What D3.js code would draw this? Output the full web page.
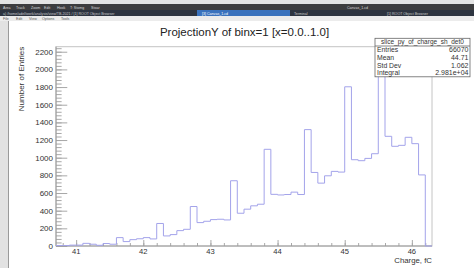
<!DOCTYPE html>
<html>
<head>
<meta charset="utf-8">
<script src="https://cdn.jsdelivr.net/npm/d3@7"></script>
<style>
  html, body { margin: 0; padding: 0; background: #fff; overflow: hidden; }
  svg { display: block; }
</style>
</head>
<body>
<div id="main"></div>
<script>
"use strict";

// bins are 0.1 fC wide, covering xRange
var xRange = [40.7, 46.3];
var counts = [5, 5, 10, 10, 30, 20, 8, 28, 20, 95, 50, 72, 82, 95, 80, 255,
  114, 129, 174, 189, 447, 265, 280, 299, 303, 295, 739, 371, 417, 455, 473,
  1095, 585, 578, 583, 610, 583, 1318, 833, 712, 795, 845, 837, 1803, 977, 966,
  992, 1045, 2150, 1242, 1129, 1140, 1231, 1159, 805, 0];
var xTicks = [41, 42, 43, 44, 45, 46];
var yTicks = [0, 200, 400, 600, 800, 1000, 1200, 1400, 1600, 1800, 2000, 2200];
var yMax = 2257;
var statsTitle = "slice_py_of_charge_sh_det0";
var statsLabels = ["Entries", "Mean", "Std Dev", "Integral"];
var statsValues = ["66070", "44.71", "1.062", "2.981e+04"];
var menuItems = ["File", "Edit", "View", "Options", "Tools"];
var barItems = ["Area", "Track", "Zoom", "Edit", "Hook", "T: Stomg", "Stoar"];

(function() {
  var CH = {
    svg: null,
    w: 474,
    h: 268,
    font: "'Liberation Sans', Arial, Helvetica, sans-serif",
    frame: { left: 56, right: 432, top: 46.7, bottom: 246 },
    init: function() {
      this.svg = d3.select("#main").append("svg")
        .attr("width", CH.w)
        .attr("height", CH.h);
      this.x = d3.scaleLinear().domain(xRange).range([CH.frame.left, CH.frame.right]);
      this.y = d3.scaleLinear().domain([0, yMax]).range([CH.frame.bottom, CH.frame.top]);
      this.drawChrome();
      this.drawAxes();
      this.drawHist();
      this.drawStats();
    },
    drawChrome: function() {
      var s = CH.svg;
      s.append("rect").attr("x", 0).attr("y", 0).attr("width", CH.w).attr("height", 4).attr("fill", "#e4e4e4");
      s.append("rect").attr("x", 0).attr("y", 4).attr("width", CH.w).attr("height", 6).attr("fill", "#3d3d3f");
      s.append("rect").attr("x", 0).attr("y", 10).attr("width", CH.w).attr("height", 6).attr("fill", "#2d3440");
      s.append("rect").attr("x", 197).attr("y", 10).attr("width", 93).attr("height", 6).attr("fill", "#3a72bd");
      s.append("rect").attr("x", 0).attr("y", 16).attr("width", CH.w).attr("height", 5).attr("fill", "#ececec");
      s.append("rect").attr("x", 0).attr("y", 21).attr("width", 8).attr("height", CH.h - 21).attr("fill", "#e2e2e2");
      s.append("line").attr("x1", 8.5).attr("x2", 8.5).attr("y1", 21).attr("y2", CH.h)
        .attr("stroke", "#9a9a9a").attr("stroke-width", 1);

      var bx = 3;
      barItems.forEach(function(t) {
        s.append("text").attr("x", bx).attr("y", 8.6)
          .attr("font-family", CH.font).attr("font-size", 3.6).attr("fill", "#d8d8d8").text(t);
        bx += t.length * 2 + 5;
      });
      s.append("text").attr("x", 347).attr("y", 8.6)
        .attr("font-family", CH.font).attr("font-size", 3.6).attr("fill", "#d8d8d8").text("Canvas_1.cd");
      s.append("text").attr("x", 3).attr("y", 14.6)
        .attr("font-family", CH.font).attr("font-size", 3.6).attr("fill", "#c8c8c8")
        .text("a) /home/adel/work/analysis/view/TB-2021 / [1] ROOT Object Browser");
      s.append("text").attr("x", 202).attr("y", 14.6)
        .attr("font-family", CH.font).attr("font-size", 3.6).attr("fill", "#ffffff").text("[3] Canvas_1.cd");
      s.append("text").attr("x", 294).attr("y", 14.6)
        .attr("font-family", CH.font).attr("font-size", 3.6).attr("fill", "#c8c8c8").text("Terminal");
      s.append("text").attr("x", 387).attr("y", 14.6)
        .attr("font-family", CH.font).attr("font-size", 3.6).attr("fill", "#c8c8c8").text("[1] ROOT Object Browser");

      var mx = 3;
      menuItems.forEach(function(t) {
        s.append("text").attr("x", mx).attr("y", 19.6)
          .attr("font-family", CH.font).attr("font-size", 3.6).attr("fill", "#555").text(t);
        mx += t.length * 2 + 5;
      });
    },
    drawAxes: function() {
      var s = CH.svg, f = CH.frame;
      var fw = f.right - f.left, fh = f.bottom - f.top;

      // frame
      s.append("rect").attr("x", f.left).attr("y", f.top)
        .attr("width", fw).attr("height", fh)
        .attr("fill", "none").attr("stroke", "#c4c4c4").attr("stroke-width", 1);

      // y axis: major every 200, minor every 40, ticks point into the frame
      var yMinor = d3.range(0, yMax, 40);
      var yAx = d3.axisRight(CH.y).tickValues(yMinor).tickSize(fw * 0.015).tickFormat("");
      s.append("g").attr("class", "yminor").attr("transform", "translate(" + f.left + ",0)").call(yAx);
      var yMaj = d3.axisRight(CH.y).tickValues(yTicks).tickSize(fw * 0.03).tickFormat("");
      s.append("g").attr("class", "ymajor").attr("transform", "translate(" + f.left + ",0)").call(yMaj);

      // x axis: major every 1, minor every 0.2
      var xMinor = d3.range(40.8, 46.3, 0.2);
      var xAx = d3.axisTop(CH.x).tickValues(xMinor).tickSize(fh * 0.015).tickFormat("");
      s.append("g").attr("class", "xminor").attr("transform", "translate(0," + f.bottom + ")").call(xAx);
      var xMaj = d3.axisTop(CH.x).tickValues(xTicks).tickSize(fh * 0.03).tickFormat("");
      s.append("g").attr("class", "xmajor").attr("transform", "translate(0," + f.bottom + ")").call(xMaj);

      s.selectAll(".yminor path, .ymajor path, .xminor path, .xmajor path").remove();
      s.selectAll(".tick line").attr("stroke", "#a8a8a8");

      s.append("line").attr("x1", f.left).attr("x2", f.left).attr("y1", f.top).attr("y2", f.bottom)
        .attr("stroke", "#9a9a9a");
      s.append("line").attr("x1", f.left).attr("x2", f.right).attr("y1", f.bottom).attr("y2", f.bottom)
        .attr("stroke", "#9a9a9a");

      s.selectAll(".ylab").data(yTicks).enter().append("text")
        .attr("class", "ylab")
        .attr("x", 53)
        .attr("y", function(d) { return CH.y(d) + 2.9; })
        .attr("text-anchor", "end")
        .attr("font-family", CH.font).attr("font-size", 8).attr("fill", "#333")
        .text(function(d) { return d; });

      s.selectAll(".xlab").data(xTicks).enter().append("text")
        .attr("class", "xlab")
        .attr("x", function(d) { return CH.x(d); })
        .attr("y", 254)
        .attr("text-anchor", "middle")
        .attr("font-family", CH.font).attr("font-size", 7.6).attr("fill", "#333")
        .text(function(d) { return d; });

      s.append("text").attr("x", f.right).attr("y", 263)
        .attr("text-anchor", "end")
        .attr("font-family", CH.font).attr("font-size", 7.8).attr("fill", "#333")
        .text("Charge, fC");

      s.append("text")
        .attr("transform", "translate(24," + f.top + ") rotate(-90)")
        .attr("text-anchor", "end")
        .attr("font-family", CH.font).attr("font-size", 8).attr("fill", "#333")
        .text("Number of Entries");

      s.append("text").attr("x", 244.5).attr("y", 35.5)
        .attr("text-anchor", "middle")
        .attr("font-family", CH.font).attr("font-size", 11.5).attr("fill", "#222")
        .text("ProjectionY of binx=1 [x=0.0..1.0]");
    },
    drawHist: function() {
      var bw = (xRange[1] - xRange[0]) / counts.length;
      var pts = counts.map(function(c, i) { return [xRange[0] + i * bw, c]; });
      pts.push([xRange[1], counts[counts.length - 1]]);
      var line = d3.line()
        .x(function(d) { return CH.x(d[0]); })
        .y(function(d) { return CH.y(d[1]); })
        .curve(d3.curveStepAfter);
      CH.svg.append("path").datum(pts)
        .attr("d", line)
        .attr("fill", "none")
        .attr("stroke", "#a3a3ea")
        .attr("stroke-width", 1);
    },
    drawStats: function() {
      var s = CH.svg;
      var bx = 375, by = 38.3, bwid = 95, bh = 38.5, row = bh / 5;
      s.append("rect").attr("x", bx).attr("y", by).attr("width", bwid).attr("height", bh)
        .attr("fill", "#fff").attr("stroke", "#666").attr("stroke-width", 0.8);
      s.append("line").attr("x1", bx).attr("x2", bx + bwid).attr("y1", by + row).attr("y2", by + row)
        .attr("stroke", "#666").attr("stroke-width", 0.8);
      s.append("text").attr("x", bx + bwid / 2).attr("y", by + row / 2 + 2.3)
        .attr("text-anchor", "middle")
        .attr("font-family", CH.font).attr("font-size", 6.5).attr("fill", "#333")
        .text(statsTitle);
      statsLabels.forEach(function(lab, i) {
        var yy = by + row * (i + 1.5) + 2.4;
        s.append("text").attr("x", bx + 2).attr("y", yy)
          .attr("font-family", CH.font).attr("font-size", 6.8).attr("fill", "#333").text(lab);
        s.append("text").attr("x", bx + bwid - 1.5).attr("y", yy)
          .attr("text-anchor", "end")
          .attr("font-family", CH.font).attr("font-size", 7).attr("fill", "#333").text(statsValues[i]);
      });
    }
  };
  CH.init();
})();
</script>
</body>
</html>
